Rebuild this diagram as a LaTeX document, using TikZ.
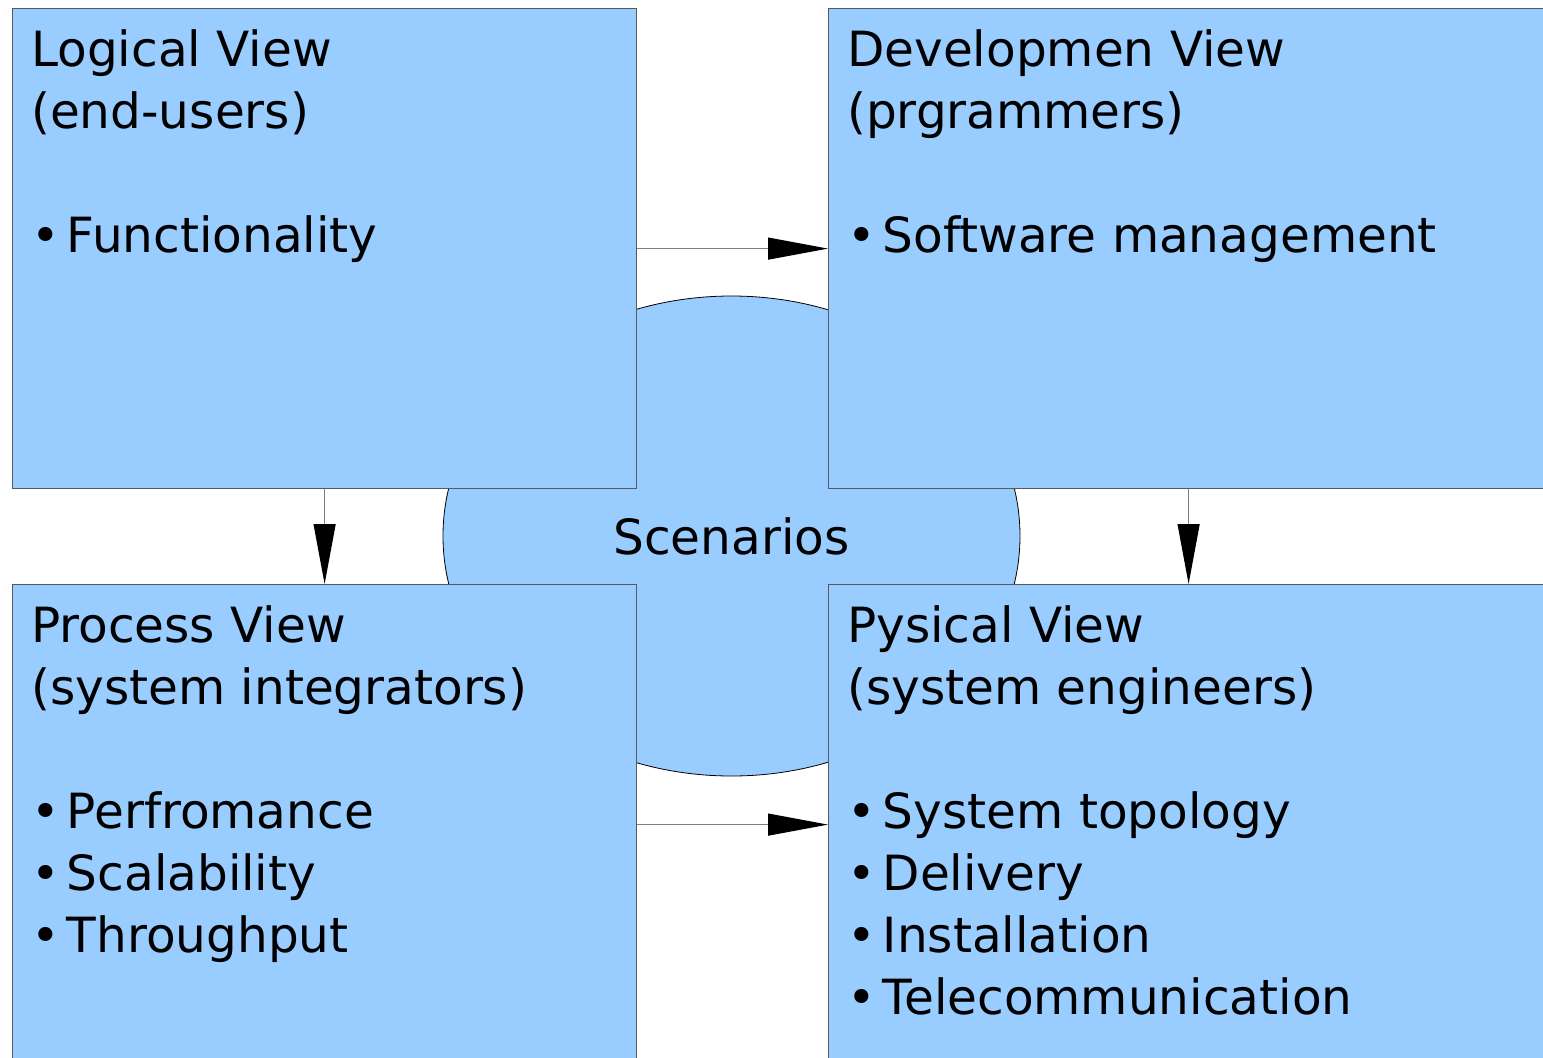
\documentclass[tikz,border=0pt]{standalone}
\usepackage{fontspec}
\setmainfont{DejaVu Sans}
\usetikzlibrary{arrows.meta,shapes.geometric}
\definecolor{viewblue}{HTML}{99CCFF}
\newcommand{\vitem}{•\hspace{7pt}}

\begin{document}
\begin{tikzpicture}[x=1pt,y=-1pt,
	view/.style={draw=black!65,fill=viewblue,line width=1.2pt,anchor=north west,
		inner sep=0pt,minimum width=#1,minimum height=480pt},
	viewtext/.style={anchor=north west,align=left,inner sep=0pt,
		font=\fontsize{48.5pt}{62pt}\selectfont},
	flow/.style={draw=black!50,line width=1.2pt,
		-{Triangle[length=60pt,width=22pt,color=black]}}]
	\useasboundingbox (0,0) rectangle (1543,1058);
	\node[ellipse,draw=black,fill=viewblue,line width=0.8pt,inner sep=0pt,
		minimum width=577pt,minimum height=480pt,
		font=\fontsize{48.5pt}{62pt}\selectfont] (scenarios) at (731.5,536) {Scenarios};
	\node[view=624pt] (logical) at (12,8) {};
	\node[view=720pt] (devel) at (828,8) {};
	\node[view=624pt] (process) at (12,584) {};
	\node[view=720pt] (physical) at (828,584) {};
	\node[viewtext] (logicaltext) at ([shift={(19,15)}]logical.north west)
		{\strut Logical View\\(end-users)\\[62pt]\vitem Functionality};
	\node[viewtext] (develtext) at ([shift={(19,15)}]devel.north west)
		{\strut Developmen View\\(prgrammers)\\[62pt]\vitem Software management};
	\node[viewtext] (processtext) at ([shift={(19,15)}]process.north west)
		{\strut Process View\\(system integrators)\\[62pt]\vitem Perfromance\\\vitem Scalability\\\vitem Throughput};
	\node[viewtext] (physicaltext) at ([shift={(19,15)}]physical.north west)
		{\strut Pysical View\\(system engineers)\\[62pt]\vitem System topology\\\vitem Delivery\\\vitem Installation\\\vitem Telecommunication};
	\draw[flow] (logical.east) -- (devel.west);
	\draw[flow] (process.east) -- (physical.west);
	\draw[flow] (logical.south) -- (process.north);
	\draw[flow] (devel.south) -- (physical.north);
\end{tikzpicture}
\end{document}
